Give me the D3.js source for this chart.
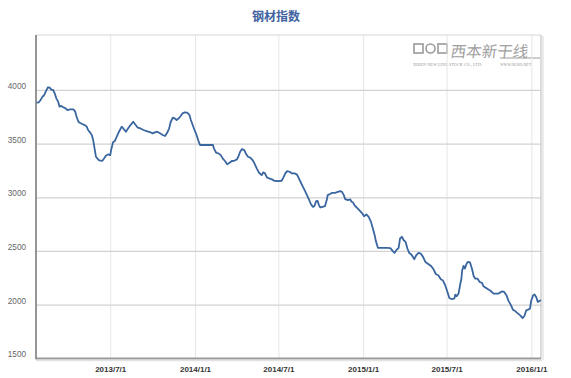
<!DOCTYPE html>
<html><head><meta charset="utf-8">
<script src="https://cdn.jsdelivr.net/npm/d3@7"></script>
<style>
html,body{margin:0;padding:0;background:#fff;}
svg{display:block;}
</style></head>
<body>
<svg id="chart" width="571" height="378"></svg>
<script>
const title = "钢材指数";
const dates = [
"2013-01-22","2013-01-27","2013-01-31","2013-02-04","2013-02-07","2013-02-11","2013-02-16","2013-02-20","2013-02-23","2013-02-27",
"2013-03-03","2013-03-06","2013-03-10","2013-03-13","2013-03-17","2013-03-21","2013-03-26","2013-03-30","2013-04-05","2013-04-12",
"2013-04-16","2013-04-19","2013-04-23","2013-04-26","2013-05-01","2013-05-07","2013-05-11","2013-05-14","2013-05-18","2013-05-22",
"2013-05-25","2013-05-28","2013-05-31","2013-06-03","2013-06-07","2013-06-14","2013-06-18","2013-06-21","2013-06-26","2013-07-01",
"2013-07-03","2013-07-07","2013-07-11","2013-07-15","2013-07-20","2013-07-26","2013-07-29","2013-08-04","2013-08-09","2013-08-14",
"2013-08-20","2013-08-24","2013-08-29","2013-09-04","2013-09-11","2013-09-18","2013-09-25","2013-10-01","2013-10-06","2013-10-11",
"2013-10-17","2013-10-23","2013-10-28","2013-11-01","2013-11-06","2013-11-09","2013-11-14","2013-11-18","2013-11-22","2013-11-27",
"2013-12-01","2013-12-05","2013-12-10","2013-12-15","2013-12-20","2013-12-23","2013-12-27","2013-12-31","2014-01-03","2014-01-06",
"2014-01-09","2014-01-12","2014-01-23","2014-02-09","2014-02-11","2014-02-16","2014-02-21","2014-02-26","2014-03-02","2014-03-07",
"2014-03-12","2014-03-17","2014-03-22","2014-03-27","2014-04-02","2014-04-05","2014-04-09","2014-04-13","2014-04-18","2014-04-22",
"2014-04-26","2014-05-01","2014-05-06","2014-05-10","2014-05-15","2014-05-20","2014-05-26","2014-05-29","2014-06-02","2014-06-06",
"2014-06-11","2014-06-17","2014-06-22","2014-07-01","2014-07-08","2014-07-12","2014-07-16","2014-07-20","2014-07-25","2014-07-30",
"2014-08-05","2014-08-10","2014-08-13","2014-08-17","2014-08-22","2014-08-28","2014-09-02","2014-09-06","2014-09-10","2014-09-14",
"2014-09-17","2014-09-21","2014-09-24","2014-09-27","2014-09-30","2014-10-05","2014-10-10","2014-10-14","2014-10-16","2014-10-21",
"2014-10-26","2014-11-01","2014-11-07","2014-11-12","2014-11-16","2014-11-20","2014-11-23","2014-11-29","2014-12-04","2014-12-07",
"2014-12-10","2014-12-13","2014-12-22","2014-12-29","2015-01-03","2015-01-08","2015-01-13","2015-01-18","2015-01-22","2015-01-26",
"2015-01-29","2015-02-02","2015-02-07","2015-02-21","2015-03-01","2015-03-06","2015-03-10","2015-03-14","2015-03-19","2015-03-22",
"2015-03-26","2015-03-30","2015-04-03","2015-04-07","2015-04-11","2015-04-15","2015-04-19","2015-04-22","2015-04-26","2015-05-01",
"2015-05-06","2015-05-11","2015-05-16","2015-05-23","2015-05-29","2015-06-03","2015-06-08","2015-06-13","2015-06-19","2015-06-23",
"2015-06-28","2015-07-03","2015-07-07","2015-07-13","2015-07-18","2015-07-20","2015-07-23","2015-07-27","2015-07-31","2015-08-02",
"2015-08-04","2015-08-07","2015-08-10","2015-08-13","2015-08-16","2015-08-21","2015-08-25","2015-08-29","2015-09-01","2015-09-06",
"2015-09-11","2015-09-16","2015-09-19","2015-09-25","2015-09-30","2015-10-05","2015-10-11","2015-10-17","2015-10-22","2015-10-25",
"2015-10-30","2015-11-03","2015-11-08","2015-11-12","2015-11-18","2015-11-22","2015-11-27","2015-12-02","2015-12-08","2015-12-13",
"2015-12-17","2015-12-21","2015-12-25","2015-12-29","2016-01-01","2016-01-05","2016-01-08","2016-01-12","2016-01-15","2016-01-19",
"2016-01-22"];
const values = [
3881,3885,3907,3938,3947,3984,4025,4021,4003,4000,
3963,3922,3891,3844,3851,3839,3829,3813,3820,3820,
3798,3751,3704,3695,3683,3673,3658,3627,3605,3580,
3533,3456,3378,3363,3344,3340,3363,3384,3400,3393,
3440,3512,3524,3564,3611,3658,3643,3611,3643,3673,
3704,3680,3652,3643,3627,3617,3608,3596,3605,3611,
3596,3580,3571,3596,3643,3699,3742,3736,3720,3736,
3757,3782,3792,3788,3767,3720,3673,3627,3596,3559,
3518,3487,3487,3487,3456,3415,3409,3393,3363,3338,
3307,3322,3338,3340,3353,3378,3424,3449,3440,3403,
3378,3369,3347,3316,3270,3229,3207,3232,3223,3185,
3176,3167,3154,3151,3154,3185,3223,3244,3238,3223,
3223,3213,3191,3154,3108,3058,3011,2974,2933,2911,
2917,2964,2967,2927,2905,2911,2917,2974,3020,3030,
3042,3042,3051,3058,3051,3020,2983,2974,2980,2958,
2952,2927,2887,2855,2824,2840,2818,2771,2710,2647,
2585,2529,2529,2529,2526,2501,2482,2507,2529,2616,
2632,2600,2585,2523,2482,2470,2445,2423,2460,2482,
2476,2445,2398,2377,2358,2327,2283,2274,2234,2227,
2181,2118,2062,2050,2057,2094,2078,2103,2197,2234,
2321,2361,2336,2377,2398,2393,2336,2265,2243,2243,
2211,2202,2171,2155,2140,2127,2103,2103,2103,2112,
2124,2118,2087,2040,1993,1953,1940,1921,1900,1875,
1894,1947,1953,1963,2040,2087,2094,2066,2025,2035,
2044];
const xTickDates = ["2013-07-01","2014-01-01","2014-07-01","2015-01-01","2015-07-01","2016-01-01"];
const xTickLabels = ["2013/7/1","2014/1/1","2014/7/1","2015/1/1","2015/7/1","2016/1/1"];
const yTicks = [1500,2000,2500,3000,3500,4000];
const xDomain = ["2013-01-22","2016-01-22"];
const yDomain = [1500,4512];
const watermarkText = "西本新干线";
const watermarkSub1 = "XIBEN NEW LINE STOCK CO., LTD.";
const watermarkSub2 = "WWW.96369.NET";

const parse = d3.timeParse("%Y-%m-%d");
const data = dates.map((d,i)=>({date:parse(d), value:values[i]}));

const svg = d3.select("#chart");
const L = 36, R = 541, T = 35, B = 358.3;
const x = d3.scaleTime().domain(xDomain.map(parse)).range([L+0.5, R]);
const y = d3.scaleLinear().domain(yDomain).range([B, T]);

// title
svg.append("text").attr("x",276).attr("y",15).attr("text-anchor","middle")
  .attr("dominant-baseline","central")
  .attr("font-family","'Noto Sans CJK SC', sans-serif").attr("font-size",12).attr("font-weight","bold")
  .attr("fill","#3f62a0").text(title);

// watermark
const wm = svg.append("g").attr("fill","#a8a8a8");
const ic = wm.append("g").attr("fill","none").attr("stroke","#9a9a9a").attr("stroke-width",1.6);
ic.append("rect").attr("x",414).attr("y",44).attr("width",9).attr("height",9);
ic.append("circle").attr("cx",430.5).attr("cy",48.5).attr("r",4.5);
ic.append("rect").attr("x",438).attr("y",44).attr("width",9).attr("height",9);
wm.append("text").attr("x",451).attr("y",50).attr("dominant-baseline","central")
  .attr("font-family","'Noto Sans CJK SC', sans-serif").attr("font-size",15.5)
  .attr("transform","skewX(-8) translate(7,0)")
  .attr("fill","#a0a0a0").text(watermarkText);
wm.append("line").attr("x1",500).attr("x2",540).attr("y1",58).attr("y2",58).attr("stroke","#9a9a9a").attr("stroke-width",1);
wm.append("text").attr("x",413).attr("y",66).attr("font-family","'Liberation Serif', serif")
  .attr("font-size",4.3).attr("fill","#999").text(watermarkSub1);
wm.append("text").attr("x",500).attr("y",66).attr("font-family","'Liberation Serif', serif")
  .attr("font-size",4.3).attr("fill","#999").attr("font-style","italic").text(watermarkSub2);

// vertical gridlines + x labels
const xAxis = d3.axisBottom(x).tickValues(xTickDates.map(parse))
  .tickSize(-(B-T)).tickPadding(8)
  .tickFormat((d,i)=>xTickLabels[i]);
const gx = svg.append("g").attr("transform",`translate(0,${B})`).call(xAxis);
gx.select(".domain").remove();
gx.selectAll(".tick line").attr("stroke","#e6e6e6").attr("stroke-width",1);
gx.selectAll(".tick text").attr("font-family","Arial, 'Liberation Sans', sans-serif")
  .attr("font-size",8).attr("font-weight","bold").attr("fill","#333");

// horizontal gridlines + y labels
const yAxis = d3.axisLeft(y).tickValues(yTicks).tickSize(-(R-L)).tickPadding(10).tickFormat(d3.format("d"));
const gy = svg.append("g").attr("transform",`translate(${L},0)`).call(yAxis);
gy.select(".domain").remove();
gy.selectAll(".tick line").attr("stroke","#d2d2d2").attr("stroke-width",1.2);
gy.selectAll(".tick text").attr("font-family","Arial, 'Liberation Sans', sans-serif")
  .attr("font-size",8.2).attr("fill","#666").attr("dy","-0.2em");

// frame
svg.append("line").attr("x1",L).attr("x2",R).attr("y1",T).attr("y2",T).attr("stroke","#d6d6d6");
svg.append("line").attr("x1",R+2).attr("x2",R+2).attr("y1",T+1).attr("y2",B+2).attr("stroke","#ececec").attr("stroke-width",2);
svg.append("line").attr("x1",R).attr("x2",R).attr("y1",T).attr("y2",B).attr("stroke","#c4c4c4").attr("stroke-width",1.2);
svg.append("line").attr("x1",L).attr("x2",R+1).attr("y1",B+2).attr("y2",B+2).attr("stroke","#e2e2e2").attr("stroke-width",2);
svg.append("line").attr("x1",L).attr("x2",R).attr("y1",B).attr("y2",B).attr("stroke","#9a9a9a").attr("stroke-width",1.8);
svg.append("line").attr("x1",L).attr("x2",L).attr("y1",T).attr("y2",B+1).attr("stroke","#8a8a8a").attr("stroke-width",1.8);

// series line
const line = d3.line().x(d=>x(d.date)).y(d=>y(d.value));
svg.append("path").datum(data).attr("d",line).attr("fill","none")
  .attr("stroke","#3a66a0").attr("stroke-width",1.8).attr("stroke-linejoin","round");
</script>
</body></html>
